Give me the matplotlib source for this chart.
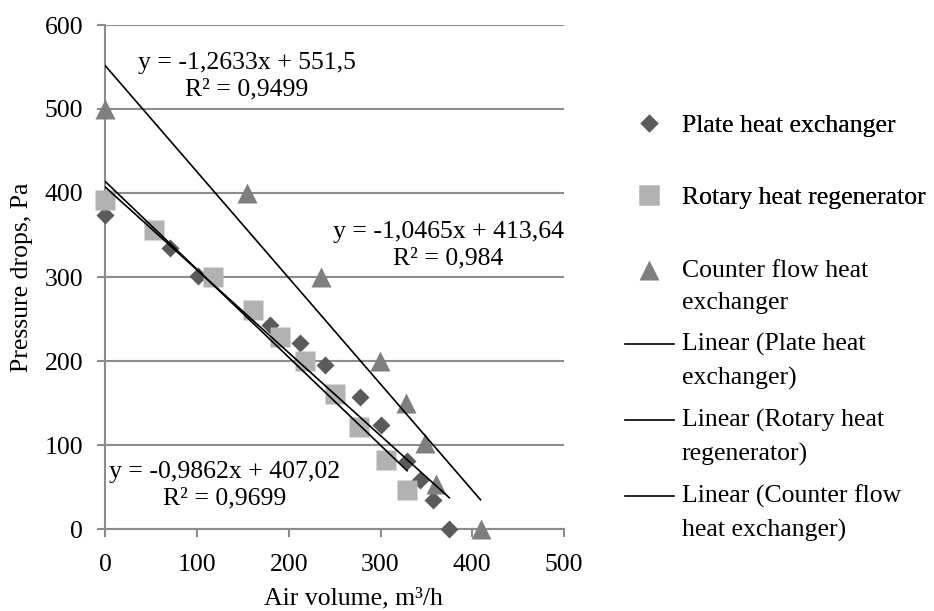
import matplotlib
matplotlib.use("Agg")
import matplotlib.pyplot as plt
from matplotlib.lines import Line2D
from matplotlib.legend_handler import HandlerLine2D
from matplotlib.transforms import Affine2D

plt.rcParams['font.family'] = ['Liberation Serif', 'DejaVu Serif']
plt.rcParams['font.size'] = 18.5

# data
plate_x = [0, 70, 101, 180, 212, 240, 278, 301, 329, 343, 357, 375]
plate_y = [374, 334, 301, 243, 222, 195, 157, 124, 81, 58, 35, 0]

rotary_x = [0, 53, 117, 161, 190, 218, 250, 277, 306, 329]
rotary_y = [392, 356, 300, 261, 229, 200, 161, 122, 82, 46]

counter_x = [0, 155, 235, 299, 328, 349, 360, 409]
counter_y = [500, 400, 300, 200, 150, 102, 53, 0]

# trendline coefficients as printed on the chart
slopes = [-0.9862, -1.0465, -1.2633]
intercepts = [407.02, 413.64, 551.5]
eq_texts = ["y = -0,9862x + 407,02\nR² = 0,9699",
            "y = -1,0465x + 413,64\nR² = 0,984",
            "y = -1,2633x + 551,5\nR² = 0,9499"]
eq_pos = [(130, 52), (374, 338), (154, 539)]

names = ["Plate heat exchanger", "Rotary heat regenerator",
         "Counter flow heat\nexchanger"]
line_names = ["Linear (Plate heat\nexchanger)", "Linear (Rotary heat\nregenerator)",
              "Linear (Counter flow\nheat exchanger)"]

grid_col = "#8c8c8c"


class FirstLineHandler(HandlerLine2D):
    # put the legend handle next to the first line of a two-line label
    def create_artists(self, legend, orig_handle, xdescent, ydescent,
                       width, height, fontsize, trans):
        arts = super().create_artists(legend, orig_handle, xdescent, ydescent,
                                      width, height, fontsize, trans)
        for a in arts:
            a.set_transform(Affine2D().translate(0, 0.66 * fontsize) + trans)
        return arts


fig = plt.figure(figsize=(9.34, 6.11), dpi=100)
ax = fig.add_axes([105.3 / 934, 82 / 611, 458.7 / 934, 504 / 611])

series = [(plate_x, plate_y), (rotary_x, rotary_y), (counter_x, counter_y)]
styles = [dict(marker='D', color='#5a5a5a', ms=9.5),
          dict(marker='s', color='#b2b2b2', ms=14),
          dict(marker='^', color='#7f7f7f', ms=14)]

for (xs, ys), st in zip(series, styles):
    ax.plot(xs, ys, ls='none', marker=st['marker'], color=st['color'],
            ms=st['ms'], mec='none', zorder=3, clip_on=False)

for (xs, ys), a, b in zip(series, slopes, intercepts):
    x0, x1 = min(xs), max(xs)
    ax.plot([x0, x1], [a * x0 + b, a * x1 + b], color='black', lw=1.2, zorder=4)

for txt, (tx, ty) in zip(eq_texts, eq_pos):
    ax.text(tx, ty, txt, ha='center', va='center', multialignment='center',
            linespacing=1.3, zorder=5)

ax.set_xlim(0, 500)
ax.set_ylim(0, 600)
ax.set_xticks(range(0, 501, 100))
ax.set_yticks(range(0, 601, 100))
ax.yaxis.grid(True, color=grid_col, lw=1.5)
ax.set_axisbelow(True)
for s in ['top', 'right']:
    ax.spines[s].set_visible(False)
for s in ['left', 'bottom']:
    ax.spines[s].set_color(grid_col)
    ax.spines[s].set_linewidth(1.5)
ax.tick_params(axis='both', color=grid_col, width=1.5, length=6)
ax.tick_params(axis='y', pad=10)
ax.tick_params(axis='x', pad=12)

ax.set_xlabel("Air volume, m³/h", va='center')
ax.xaxis.set_label_coords(0.542, -0.138)
ax.set_ylabel("Pressure drops, Pa", va='center')
ax.yaxis.set_label_coords(-0.182, 0.5)

handles = [Line2D([], [], ls='none', marker=st['marker'], color=st['color'],
                  ms=st['ms'], mec='none') for st in styles]
line_handles = [Line2D([], [], color='black', lw=1.2) for _ in range(3)]

# single-line entries
leg1 = fig.legend(handles[:2], names[:2], loc='upper left',
                  bbox_to_anchor=(625 / 934, 1 - 114 / 611), frameon=False,
                  borderpad=0, borderaxespad=0, handlelength=1.9, handletextpad=0.3,
                  labelspacing=1.9)
fig.add_artist(leg1)

# two-line entries
hmap = {h: FirstLineHandler() for h in [handles[2]] + line_handles}
leg2 = fig.legend([handles[2]] + line_handles, names[2:] + line_names, loc='upper left',
                  bbox_to_anchor=(625 / 934, 1 - 260 / 611), frameon=False,
                  borderpad=0, borderaxespad=0, handlelength=1.9, handletextpad=0.3,
                  labelspacing=0.74, handler_map=hmap)
for t in leg2.get_texts():
    t.set_linespacing(1.6)

fig.savefig("out.png", dpi=100)
